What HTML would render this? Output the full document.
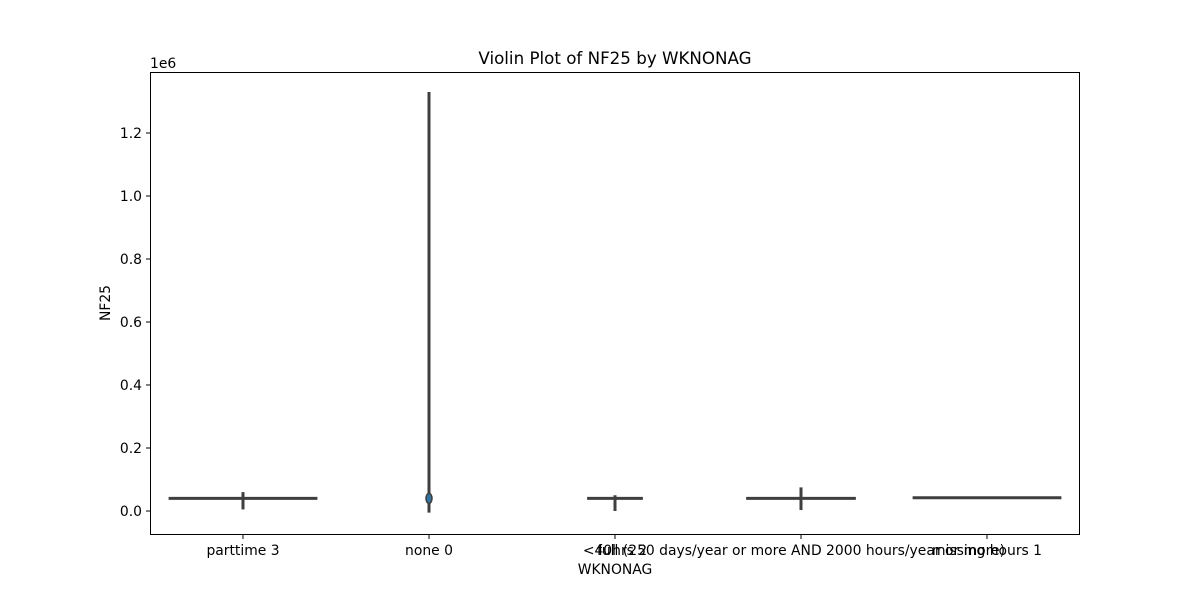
<!DOCTYPE html>
<html><head><meta charset="utf-8"><style>
body{margin:0;background:#fff;}
svg text{font-family:"DejaVu Sans","Liberation Sans",sans-serif;fill:#000;}
</style></head><body>
<svg id="chart" width="1200" height="600" xmlns="http://www.w3.org/2000/svg">
<rect width="1200" height="600" fill="#fff"/>
<text x="615" y="64" font-size="16.7" text-anchor="middle">Violin Plot of NF25 by WKNONAG</text>
<text x="150" y="68" font-size="13.9">1e6</text>
<text x="110" y="303" font-size="13.9" text-anchor="middle" transform="rotate(-90 110 303)">NF25</text>
<text x="615" y="574" font-size="13.9" text-anchor="middle">WKNONAG</text>
<g id="marks"></g>
<rect x="150.5" y="72.5" width="929" height="462" fill="none" stroke="#000" stroke-width="1"/>
</svg>
<script>
const categories=["parttime 3","none 0","<40hrs 2","full (250 days/year or more AND 2000 hours/year or more)","missing hours 1"];
const centers=[0.040,0.040,0.040,0.040,0.042];
const mins=[0.005,-0.005,0.000,0.003,0.042];
const maxs=[0.060,1.330,0.050,0.075,0.042];
const widths=[0.80,0.02,0.30,0.59,0.80];
const yTicks=[0.0,0.2,0.4,0.6,0.8,1.0,1.2];
const yTickLabels=["0.0","0.2","0.4","0.6","0.8","1.0","1.2"];
const svg=document.getElementById('chart');
const g=document.getElementById('marks');
const NS="http://www.w3.org/2000/svg";
const y=v=>511-v*315;
const x=i=>243+i*186;
function mk(t,a){const e=document.createElementNS(NS,t);for(const k in a)e.setAttribute(k,a[k]);return e;}
yTicks.forEach((v,i)=>{
 const t=mk('line',{x1:146,x2:150,y1:y(v),y2:y(v),stroke:'#000'});
 
 
 svg.appendChild(t);
 const l=mk('text',{x:142,y:y(v)+5,'font-size':13.9,'text-anchor':'end'});
 l.textContent=yTickLabels[i];
 
 
 svg.appendChild(l);
});
categories.forEach((c,i)=>{
 const t=mk('line',{x1:x(i),x2:x(i),y1:535,y2:539,stroke:'#000'});
 
 
 svg.appendChild(t);
 const l=mk('text',{x:x(i),y:555,'font-size':13.9,'text-anchor':'middle'});
 l.textContent=c;
 
 
 svg.appendChild(l);
 const hw=widths[i]*186/2;
 const body=mk('line',{x1:x(i)-hw,x2:x(i)+hw,y1:y(centers[i]),y2:y(centers[i]),stroke:'#3f3f3f','stroke-width':3});
 
 
 g.appendChild(body);
 if(maxs[i]>mins[i]){
  const w=mk('line',{x1:x(i),x2:x(i),y1:y(maxs[i]),y2:y(mins[i]),stroke:'#3f3f3f','stroke-width':3});
  
  
  g.appendChild(w);
 }
 if(i===1){
  const d=mk('ellipse',{cx:x(i),cy:y(centers[i]),rx:3,ry:5,fill:'#3274a1',stroke:'#3f3f3f','stroke-width':1.5});
  
  
  g.appendChild(d);
 }
});
</script>
</body></html>
